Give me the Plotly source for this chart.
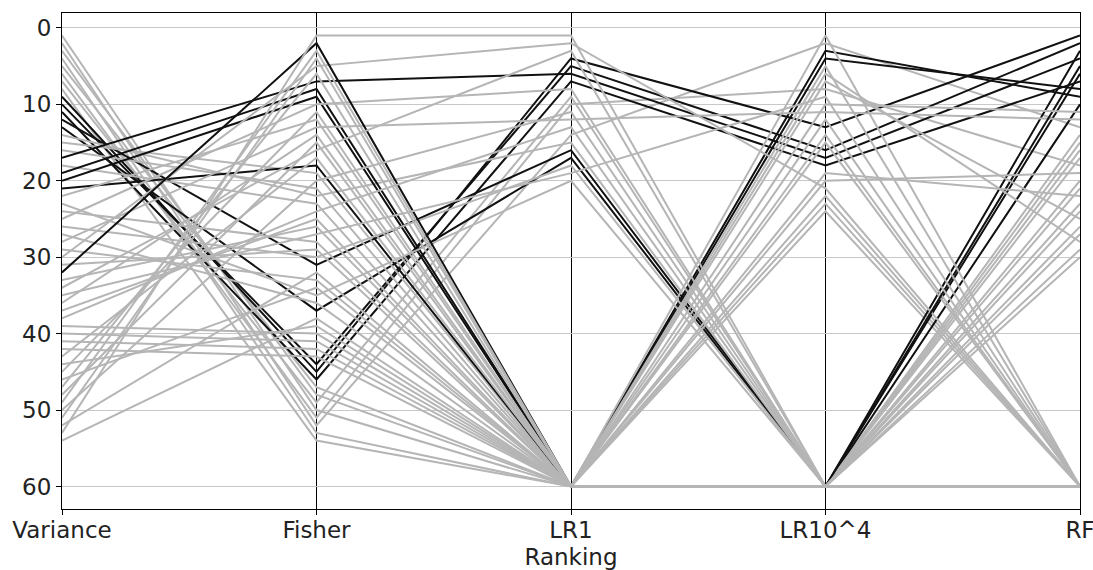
import plotly.graph_objects as go

# Columns (rankings produced by each method)
columns = ["Variance", "Fisher", "LR1", "LR10^4", "RF"]

# Highlighted features (top-10 by RF) - drawn in black
black_variance = [17, 19, 20, 21, 32, 9, 10, 11, 12, 13]
black_fisher   = [7, 8, 9, 18, 2, 45, 44, 46, 31, 37]
black_lr1      = [6, 60, 60, 60, 60, 4, 5, 7, 16, 17]
black_lr1e4    = [17, 3, 4, 60, 60, 13, 16, 18, 60, 60]
black_rf       = [4, 9, 8, 3, 5, 1, 2, 7, 6, 10]

# Remaining features - drawn in grey
grey_variance = [1, 2, 3, 4, 5, 6, 7, 8, 14, 15, 16, 18, 22, 23, 24, 25, 26, 27, 28, 29, 30, 31,
                 33, 34, 35, 36, 37, 38, 39, 40, 41, 42, 43, 44, 45, 46, 47, 48, 49, 50, 51, 52, 53, 54]
grey_fisher   = [50, 52, 48, 53, 47, 51, 49, 54, 22, 19, 21, 23, 12, 35, 28, 10, 30, 36, 13, 33, 5, 29,
                 26, 16, 27, 14, 25, 24, 40, 41, 42, 43, 17, 39, 11, 34, 6, 15, 3, 20, 4, 32, 1, 38]
grey_lr1      = [60, 14, 60, 60, 60, 10, 9, 60, 15, 60, 60, 60, 60, 20, 60, 8, 18, 60, 12, 60, 2, 60,
                 60, 3, 19, 60, 60, 13, 60, 60, 60, 60, 60, 60, 60, 60, 60, 60, 60, 11, 60, 60, 1, 60]
grey_lr1e4    = [23, 2, 60, 60, 22, 8, 60, 24, 60, 60, 60, 60, 60, 60, 14, 60, 60, 60, 11, 15, 21, 60,
                 60, 60, 9, 7, 12, 60, 60, 20, 60, 60, 10, 60, 6, 60, 5, 60, 1, 60, 60, 60, 60, 19]
grey_rf       = [60, 13, 14, 60, 60, 18, 16, 60, 60, 20, 60, 60, 15, 60, 60, 24, 60, 17, 12, 60, 60, 60,
                 21, 60, 60, 25, 60, 60, 26, 19, 60, 60, 11, 23, 28, 60, 60, 29, 60, 60, 27, 60, 30, 22]

y_ticks = [0, 10, 20, 30, 40, 50, 60]

BLACK = "#111111"
GREY = "#b5b5b5"
FONT = "DejaVu Sans"

rows = []
for i in range(len(black_variance)):
    rows.append((black_variance[i], BLACK,
                 [black_variance[i], black_fisher[i], black_lr1[i], black_lr1e4[i], black_rf[i]]))
for i in range(len(grey_variance)):
    rows.append((grey_variance[i], GREY,
                 [grey_variance[i], grey_fisher[i], grey_lr1[i], grey_lr1e4[i], grey_rf[i]]))
# interleave drawing order by feature (variance rank), like a row-ordered data frame
rows.sort(key=lambda r: r[0])

fig = go.Figure()
for _, color, vals in rows:
    fig.add_trace(go.Scatter(
        x=columns, y=vals, mode="lines",
        line=dict(color=color, width=2),
        hoverinfo="skip", showlegend=False,
    ))

fig.update_layout(
    width=1093, height=570,
    margin=dict(l=62, r=13, t=13, b=61),
    paper_bgcolor="white", plot_bgcolor="white",
    font=dict(family=FONT, size=23, color="#222222"),
    showlegend=False,
)
fig.update_xaxes(
    type="category", categoryorder="array", categoryarray=columns,
    range=[0, len(columns) - 1],
    showgrid=True, gridcolor="#000000", gridwidth=1.2,
    showline=True, linecolor="#000000", linewidth=1.2, mirror=True,
    ticks="outside", ticklen=5, tickcolor="#000000",
    ticklabelstandoff=-5,
    title=dict(text="Ranking", standoff=9, font=dict(size=23)),
    zeroline=False, automargin=False,
)
fig.update_yaxes(
    range=[62.95, -1.95],
    tickvals=y_ticks,
    showgrid=True, gridcolor="#c8c8c8", gridwidth=1,
    showline=True, linecolor="#000000", linewidth=1.2, mirror=True,
    ticks="outside", ticklen=5, tickcolor="#000000",
    zeroline=False, automargin=False,
)

fig.write_html("out.html",
               config={"displayModeBar": False},
               post_script="document.body.style.margin='0';document.body.style.overflow='hidden';")
